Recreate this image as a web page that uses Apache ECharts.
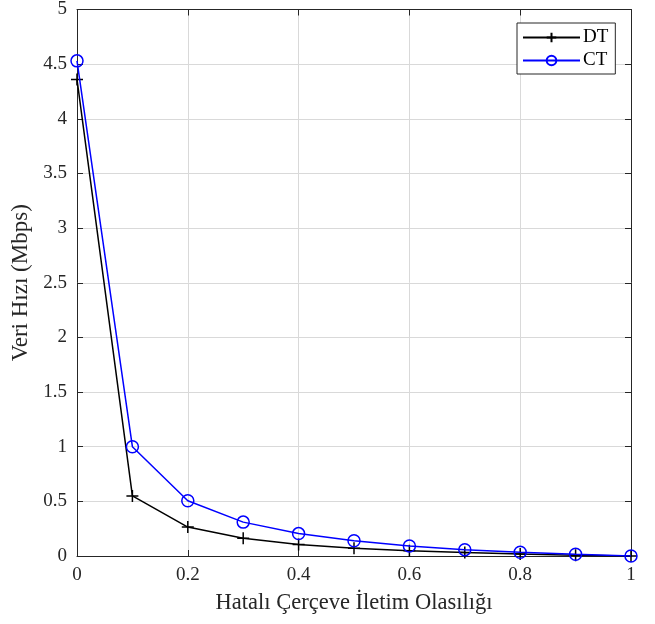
<!DOCTYPE html>
<html><head><meta charset="utf-8">
<script src="https://cdn.jsdelivr.net/npm/echarts@6/dist/echarts.min.js"></script>
<style>html,body{margin:0;padding:0;background:#fff}#c{width:655px;height:624px}</style>
</head><body><div id="c"></div>
<script>
const xValues = [0, 0.1, 0.2, 0.3, 0.4, 0.5, 0.6, 0.7, 0.8, 0.9, 1];
const dtValues = [4.36, 0.55, 0.265, 0.163, 0.105, 0.072, 0.048, 0.031, 0.018, 0.008, 0];
const ctValues = [4.53, 1.0, 0.505, 0.31, 0.205, 0.14, 0.092, 0.058, 0.035, 0.016, 0];
const seriesNames = ['DT', 'CT'];
const xTitle = 'Hatalı Çerçeve İletim Olasılığı';
const yTitle = 'Veri Hızı (Mbps)';

const font = '"Liberation Serif", "Times New Roman", serif';
const axisCol = '#262626';
const chart = echarts.init(document.getElementById('c'));
const plus = 'path://M5,0L5,10M0,5L10,5';
function mk(vals) { return xValues.map((x, i) => [x, vals[i]]); }
const tick = { show: true, inside: true, length: 6, lineStyle: { color: axisCol } };
const line = { show: true, onZero: false, lineStyle: { color: axisCol, width: 1 } };
chart.setOption({
  animation: false,
  grid: { left: 77, right: 24, top: 7, bottom: 68 },
  legend: {
    left: 517, top: 23, orient: 'vertical',
    itemWidth: 57, itemHeight: 12, itemGap: 4,
    borderColor: axisCol, borderWidth: 1, backgroundColor: '#fff',
    padding: [5, 7, 4, 5],
    textStyle: { fontFamily: font, fontSize: 19, color: '#000', padding: [0, 0, 0, -2] },
    data: seriesNames
  },
  xAxis: [{
    type: 'value', min: 0, max: 1, interval: 0.2,
    name: xTitle, nameLocation: 'middle', nameGap: 36,
    nameTextStyle: { fontFamily: font, fontSize: 22.5, color: '#262626' },
    axisLine: line, axisTick: tick,
    axisLabel: { fontFamily: font, fontSize: 19, color: '#262626', margin: 10 },
    splitLine: { show: true, lineStyle: { color: '#d9d9d9', width: 1 } }
  }, {
    type: 'value', min: 0, max: 1, interval: 0.2, position: 'top',
    axisLine: line, axisTick: tick,
    axisLabel: { show: false }, splitLine: { show: false }
  }],
  yAxis: [{
    type: 'value', min: 0, max: 5, interval: 0.5,
    name: yTitle, nameLocation: 'middle', nameGap: 42,
    nameTextStyle: { fontFamily: font, fontSize: 23, color: '#262626' },
    axisLine: line, axisTick: tick,
    axisLabel: { fontFamily: font, fontSize: 19, color: '#262626', margin: 10 },
    splitLine: { show: true, lineStyle: { color: '#d9d9d9', width: 1 } }
  }, {
    type: 'value', min: 0, max: 5, interval: 0.5, position: 'right',
    axisLine: line, axisTick: tick,
    axisLabel: { show: false }, splitLine: { show: false }
  }],
  series: [{
    name: seriesNames[0], type: 'line', data: mk(dtValues),
    symbol: plus, symbolSize: 12,
    lineStyle: { color: '#000', width: 1.5 },
    itemStyle: { color: 'none', borderColor: '#000', borderWidth: 1.5 },
    z: 3
  }, {
    name: seriesNames[1], type: 'line', data: mk(ctValues),
    symbol: 'circle', symbolSize: 12,
    lineStyle: { color: '#0000ff', width: 1.5 },
    itemStyle: { color: 'none', borderColor: '#0000ff', borderWidth: 1.5 },
    z: 4
  }]
});
</script></body></html>
